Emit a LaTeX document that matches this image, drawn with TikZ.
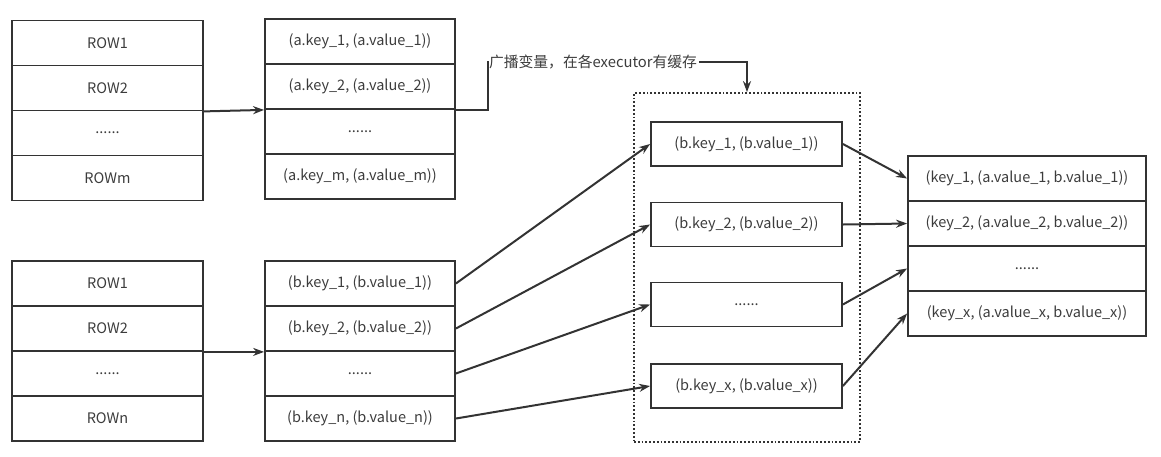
\documentclass[tikz,border=0pt]{standalone}
\usepackage{fontspec}
\setmainfont{Noto Sans CJK SC}
\usetikzlibrary{positioning,arrows.meta}
\definecolor{linegray}{HTML}{333333}
\definecolor{textgray}{HTML}{3C3C3C}

\begin{document}
\begin{tikzpicture}[x=1pt,y=-1pt,node distance=45pt,on grid,
    line width=1.8pt,draw=linegray,
    cell/.style={draw,rectangle,minimum width=191pt,minimum height=45pt,
      inner sep=0pt,text=textgray,font=\fontsize{14.5}{16}\selectfont},
    pairbox/.style={cell,minimum height=44pt},
    cachebox/.style={draw,rectangle,dotted,line width=1.8pt,
      minimum width=226pt,minimum height=349pt},
    link/.style={->,line width=2pt,>={Stealth[length=11pt,width=8pt]}}]
  \useasboundingbox (0,0) rectangle (1161,456);
  % table a
  \node[cell] (a1) at (107.5,43) {ROW1};
  \node[cell] (a2) [below=of a1] {ROW2};
  \node[cell] (a3) [below=of a2] {......};
  \node[cell] (a4) [below=of a3] {ROWm};
  \node[cell,minimum width=190pt] (ka1) at (360,41.5) {(a.key\_1, (a.value\_1))};
  \node[cell,minimum width=190pt] (ka2) [below=of ka1] {(a.key\_2, (a.value\_2))};
  \node[cell,minimum width=190pt] (ka3) [below=of ka2] {......};
  \node[cell,minimum width=190pt] (ka4) [below=of ka3] {(a.key\_m, (a.value\_m))};
  % table b
  \node[cell] (b1) at (107.5,283.5) {ROW1};
  \node[cell] (b2) [below=of b1] {ROW2};
  \node[cell] (b3) [below=of b2] {......};
  \node[cell] (b4) [below=of b3] {ROWn};
  \node[cell,minimum width=190pt] (kb1) at (360,283.5) {(b.key\_1, (b.value\_1))};
  \node[cell,minimum width=190pt] (kb2) [below=of kb1] {(b.key\_2, (b.value\_2))};
  \node[cell,minimum width=190pt] (kb3) [below=of kb2] {......};
  \node[cell,minimum width=190pt] (kb4) [below=of kb3] {(b.key\_n, (b.value\_n))};
  % broadcast cache
  \node[cachebox] (cache) at (747,267.5) {};
  \node[pairbox] (bb1) at (746.5,144) {(b.key\_1, (b.value\_1))};
  \node[pairbox] (bb2) at (746.5,224.5) {(b.key\_2, (b.value\_2))};
  \node[pairbox] (bb3) at (746.5,304.5) {......};
  \node[pairbox] (bb4) at (746.5,386) {(b.key\_x, (b.value\_x))};
  \node[text=textgray,inner sep=1pt,font=\fontsize{14.8}{16}\selectfont]
    (bcast) at (593,62) {广播变量，在各executor有缓存};
  % joined result
  \node[cell,minimum width=238pt] (j1) at (1027,178.5) {(key\_1, (a.value\_1, b.value\_1))};
  \node[cell,minimum width=238pt] (j2) [below=of j1] {(key\_2, (a.value\_2, b.value\_2))};
  \node[cell,minimum width=238pt] (j3) [below=of j2] {......};
  \node[cell,minimum width=238pt] (j4) [below=of j3] {(key\_x, (a.value\_x, b.value\_x))};

  \draw[link] (a2.south east) -- (ka2.south west);
  \draw[link] (b2.south east) -- (kb2.south west);
  \draw[link,-] (ka2.south east) -- ++(32,0) |- (bcast.west);
  \draw[link] (bcast.east) -| (cache.north);
  \path[link]
    (kb1.east) edge (bb1.west)
    (kb2.east) edge (bb2.west)
    (kb3.east) edge (bb3.west)
    (kb4.east) edge (bb4.west)
    (bb1.east) edge (j1.west)
    (bb2.east) edge (j2.west)
    (bb3.east) edge (j3.west)
    (bb4.east) edge (j4.west);
\end{tikzpicture}
\end{document}
